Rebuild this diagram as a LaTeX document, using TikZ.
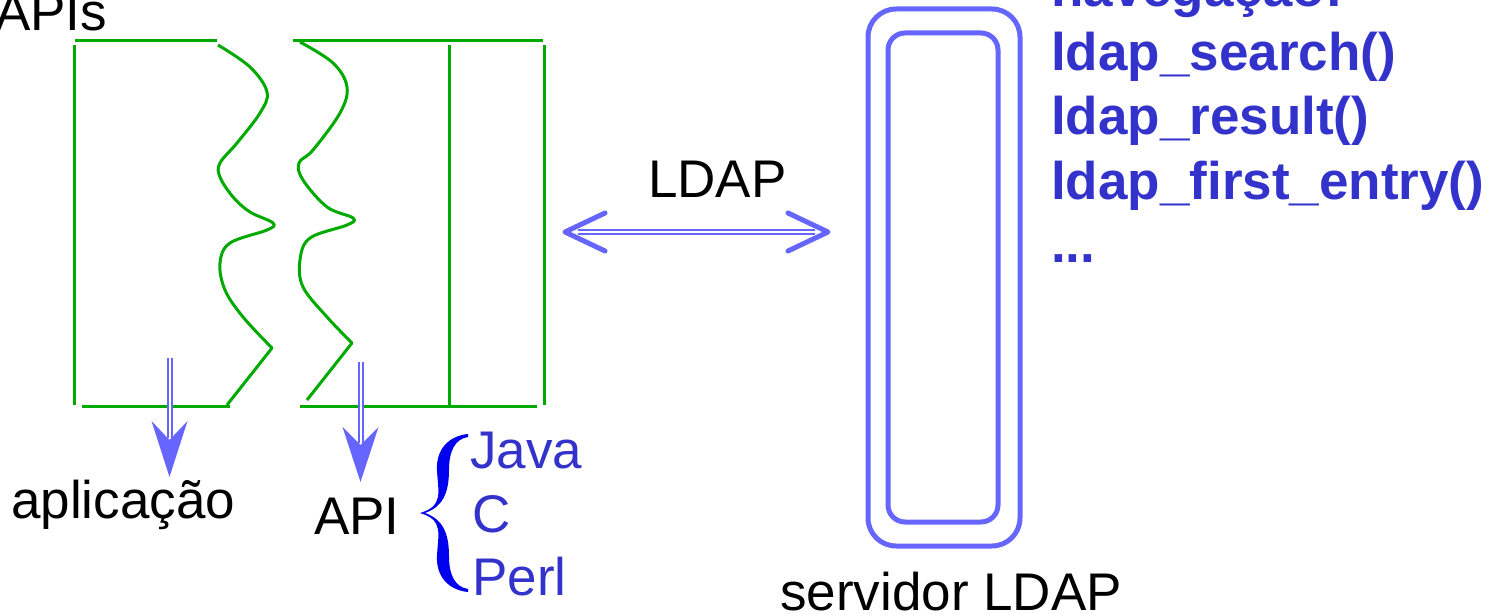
\documentclass[tikz,border=0pt]{standalone}
\usepackage{fontspec}
\setmainfont{Liberation Sans}
\usetikzlibrary{calc}
\definecolor{apigreen}{HTML}{00AA00}
\definecolor{linkblue}{HTML}{6666FF}
\definecolor{textblue}{HTML}{3333CC}
\definecolor{braceblue}{HTML}{0000EE}
\begin{document}
\begin{tikzpicture}[x=1pt,y=-1pt,
  wall/.style={draw=apigreen, line width=3pt},
  txt/.style={inner sep=0pt, anchor=base west, font=\fontsize{53}{64}\selectfont},
  call/.style={txt, text=textblue, font=\fontsize{53}{64}\selectfont\bfseries},
  lang/.style={txt, text=textblue},
  shaft/.style={draw=linkblue, line width=2pt, double=white, double distance=2pt},
  chevron/.style={draw=linkblue, line width=5pt, line cap=round, line join=round},
  serverbox/.style={draw=linkblue, line width=5pt, inner sep=0pt}
]
\useasboundingbox (0,0) rectangle (1497,615);

% ---- API layers (left block) ----
\draw[wall] (75,41) -- (217,41);
\draw[wall] (74.5,45) -- (74.5,405);
\draw[wall] (82,406) -- (230,406);
\draw[wall] (293,41) -- (543,41);
\draw[wall] (300,406) -- (537,406);
\draw[wall] (449,45) -- (449,406);
\draw[wall] (544,45) -- (544,405);
\draw[wall, line join=round] plot[smooth, tension=0.6] coordinates {
  (218,45) (250,67) (267,92) (260,113) (237,143) (220,163) (220,177)
  (233,197) (250,212) (273,223) (267,230) (230,243) (220,263) (225,290)
  (243,317) (272,348)} -- (227,405);
\draw[wall, line join=round] plot[smooth, tension=0.6] coordinates {
  (300,42) (333,63) (347,87) (340,113) (313,150) (299,163) (303,180)
  (327,207) (353,218) (347,225) (310,238) (300,260) (303,287)
  (327,317) (352,343)} -- (307,400);

\node[txt] (apis) at (-5,31) {APIs};

% ---- downward arrows ----
\coordinate (appTop) at (169.5,358);
\coordinate (appTip) at (169.5,477);
\coordinate (apiTop) at (360.5,362);
\coordinate (apiTip) at (360.5,482);
\fill[linkblue] (appTip) -- ++(-18,-56) -- ++(18,19) -- ++(18,-19) -- cycle;
\draw[shaft] (appTop) -- ($(appTip)+(0,-39)$);
\fill[linkblue] (apiTip) -- ++(-18,-55) -- ++(18,18) -- ++(18,-18) -- cycle;
\draw[shaft] (apiTop) -- ($(apiTip)+(0,-39)$);

\node[txt] (app) at (11,518) {aplicação};
\node[txt] (api) at (314,534) {API};

% ---- language brace ----
\fill[braceblue] (468,434)
  .. controls (448,436) and (436,450) .. (437,470)
  .. controls (438,492) and (444,506) .. (420,513)
  .. controls (444,520) and (438,534) .. (437,556)
  .. controls (436,576) and (448,590) .. (468,592)
  -- (468,589)
  .. controls (455,587) and (449,575) .. (449,556)
  .. controls (449,532) and (442,519) .. (425,513)
  .. controls (442,507) and (449,494) .. (449,470)
  .. controls (449,451) and (455,439) .. (468,437) -- cycle;
\node[lang] (java) at (470,468) {Java};
\node[lang] (clang) at (472,532) {C};
\node[lang] (perl) at (472,595) {Perl};

% ---- LDAP link ----
\node[txt] (proto) at (648,197) {LDAP};
\coordinate (linkL) at (565,232);
\coordinate (linkR) at (828,232);
\draw[shaft] ($(linkL)+(13,0)$) -- ($(linkR)+(-13,0)$);
\draw[chevron] ($(linkL)+(40,-19)$) -- (linkL) -- ($(linkL)+(40,19)$);
\draw[chevron] ($(linkR)+(-40,-19)$) -- (linkR) -- ($(linkR)+(-40,19)$);

% ---- server ----
\node[serverbox, rounded corners=28pt, minimum width=152pt, minimum height=537pt] (server) at (944,277.5) {};
\node[serverbox, rounded corners=17pt, minimum width=110pt, minimum height=489pt] (core) at (943,277.5) {};
\node[txt] (srvname) at (780,610) {servidor LDAP};

% ---- API calls ----
\node[call] (nav) at (1051,7) {navegação:};
\node[call] (search) at (1051,71) {ldap\_search()};
\node[call] (result) at (1051,135) {ldap\_result()};
\node[call] (first) at (1051,199) {ldap\_first\_entry()};
\node[call] (more) at (1051,262) {...};
\end{tikzpicture}
\end{document}
